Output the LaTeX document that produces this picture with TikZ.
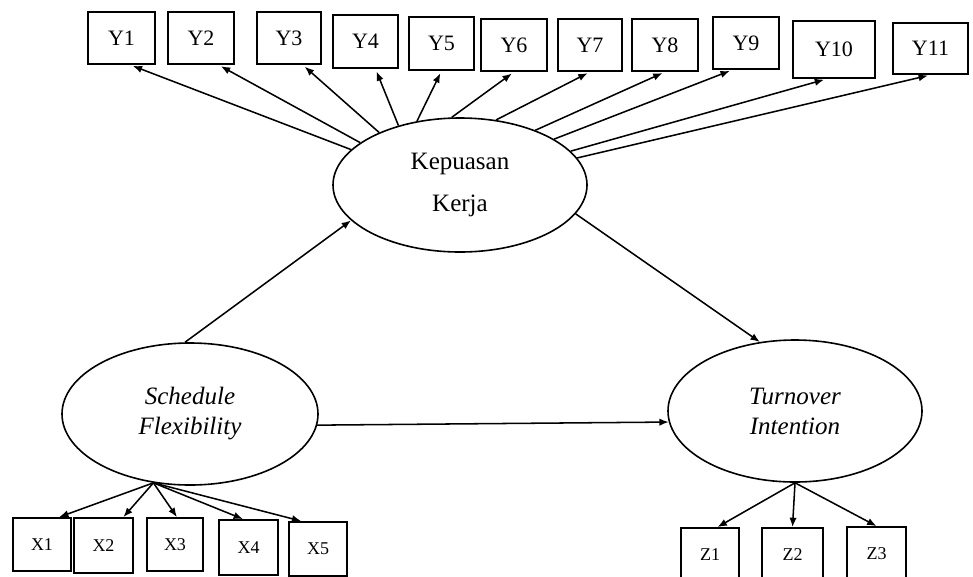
\documentclass[tikz,border=0pt]{standalone}
\usepackage{fontspec}
\setmainfont{Liberation Serif}
\usepackage{tikz}
\usetikzlibrary{shapes.geometric}
\usetikzlibrary{arrows.meta}

\tikzset{
	ind/.style 2 args={draw, line width=1.4pt, rectangle, inner sep=0pt, minimum width=#1*0.75pt, minimum height=#2*0.75pt, font=\fontsize{16.5}{19}\selectfont},
	sml/.style={font=\fontsize{13.5}{15}\selectfont},
	lat/.style 2 args={draw, line width=1.2pt, ellipse, inner sep=0pt, align=center, minimum width=#1*0.75pt, minimum height=#2*0.75pt, font=\fontsize{18.75}{22.5}\selectfont},
	ital/.style={font=\fontsize{18.75}{22.5}\selectfont\itshape},
	pth/.style={-{Latex[length=7pt,width=5.5pt]}, line width=1.15pt}
}

\begin{document}
\begin{tikzpicture}[x=0.75pt, y=-0.75pt]
	 		\useasboundingbox (0,0) rectangle (973,576);
	 		\node[ind={67}{52}] (y1) at (121.5,38) {Y1};
	 		\node[ind={66}{52}] (y2) at (201,38) {Y2};
	 		\node[ind={64}{52}] (y3) at (289,38) {Y3};
	 		\node[ind={65}{53}] (y4) at (365.5,41.5) {Y4};
	 		\node[ind={65}{53}] (y5) at (441.5,43.5) {Y5};
	 		\node[ind={66}{52}] (y6) at (514,45) {Y6};
	 		\node[ind={64}{52}] (y7) at (590,45) {Y7};
	 		\node[ind={66}{52}] (y8) at (665,45) {Y8};
	 		\node[ind={66}{52}] (y9) at (746,43) {Y9};
	 		\node[ind={82}{57}] (y10) at (834,49.5) {Y10};
	 		\node[ind={75}{51}] (y11) at (930.5,48.5) {Y11};
	 		\node[lat={254}{134}] (kk) at (460,185) {Kepuasan\\[9pt]Kerja};
	 		\node[lat={256}{142}, ital] (sf) at (190,414) {Schedule\\Flexibility};
	 		\node[lat={254}{142}, ital] (ti) at (795,411) {Turnover\\Intention};
	 		\node[ind={58}{53}, sml] (x1) at (42,544.5) {X1};
	 		\node[ind={59}{55}, sml] (x2) at (103.5,545.5) {X2};
	 		\node[ind={56}{53}, sml] (x3) at (175,544.5) {X3};
	 		\node[ind={59}{55}, sml] (x4) at (248.5,547.5) {X4};
	 		\node[ind={58}{54}, sml] (x5) at (318,549) {X5};
	 		\node[ind={58}{54}, sml] (z1) at (710,555) {Z1};
	 		\node[ind={61}{54}, sml] (z2) at (792.5,555) {Z2};
	 		\node[ind={59}{54}, sml] (z3) at (876.5,554) {Z3};
	 		\draw[pth, shorten >=2pt] (kk.162) -- (y1.-72);
	 		\draw[pth, shorten >=2pt] (kk.157) -- (y2.-57);
	 		\draw[pth, shorten >=2pt] (kk.147) -- (y3.-63);
	 		\draw[pth, shorten >=2pt] (kk.136) -- (y4.-70);
	 		\draw[pth, shorten >=2pt] (kk.124) -- (y5.south);
	 		\draw[pth, shorten >=2pt] (kk.97) -- (y6.south);
	 		\draw[pth, shorten >=2pt] (kk.61) -- (y7.south);
	 		\draw[pth, shorten >=2pt] (kk.36) -- (y8.south);
	 		\draw[pth, shorten >=2pt] (kk.26) -- (y9.243);
	 		\draw[pth, shorten >=2pt] (kk.17) -- (y10.256);
	 		\draw[pth, shorten >=2pt] (kk.13) -- (y11.south);
	 		\draw[pth] (sf.94) -- (kk.198);
	 		\draw[pth] (kk.-14) -- (ti.117);
	 		\draw[pth] (sf.-5) -- (ti.185);
	 		\draw[pth] (sf.242) -- (x1.58);
	 		\draw[pth] (sf.242) -- (x2.55);
	 		\draw[pth] (sf.242) -- (x3.86);
	 		\draw[pth] (sf.242) -- (x4.101);
	 		\draw[pth] (sf.242) -- (x5.121);
	 		\draw[pth] (ti.south) -- (z1.75);
	 		\draw[pth] (ti.south) -- (z2.north);
	 		\draw[pth] (ti.south) -- (z3.north);
	 	\end{tikzpicture}
\end{document}
